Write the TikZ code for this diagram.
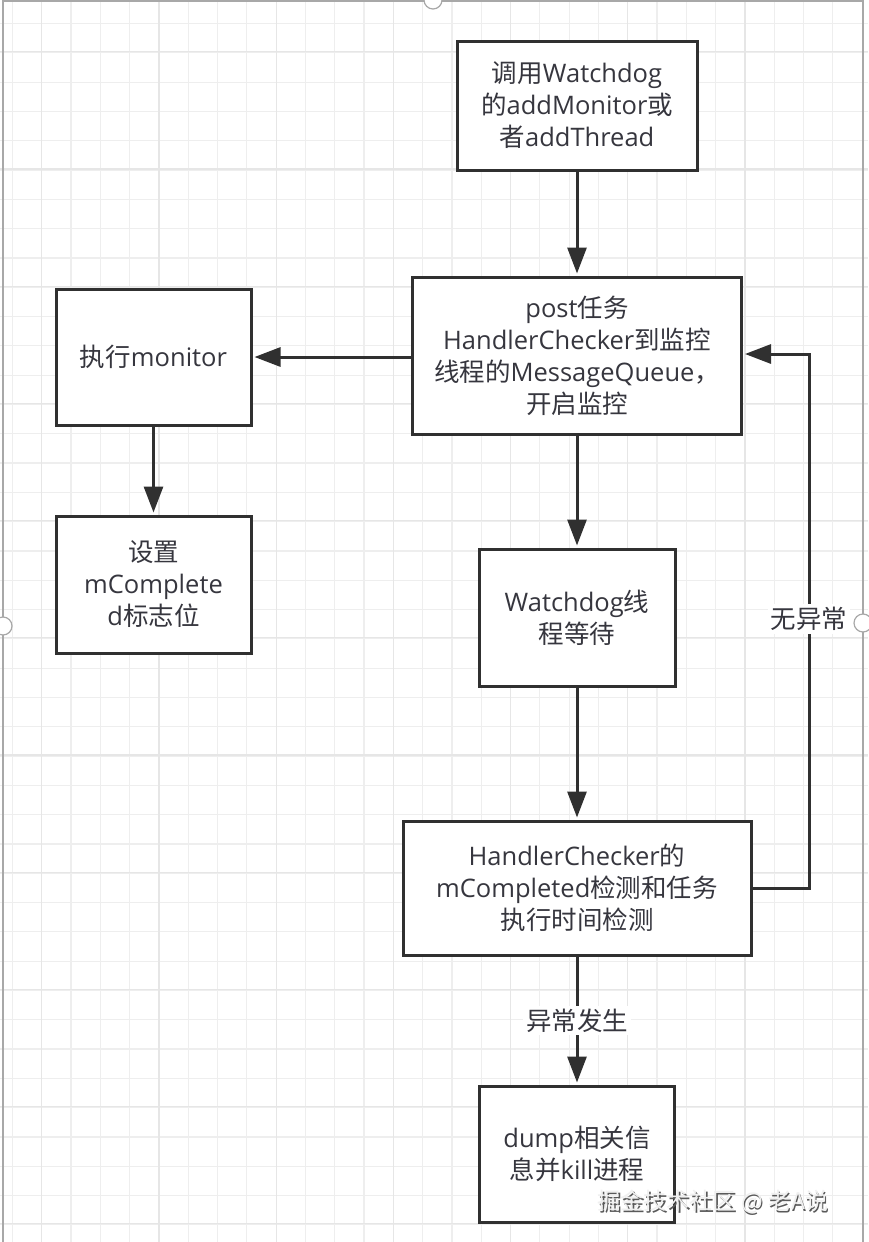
\documentclass[tikz,border=0pt]{standalone}
\usepackage{fontspec}
\setmainfont{Open Sans}
\newfontfamily\zh{Noto Sans CJK SC}
\usetikzlibrary{arrows.meta}
\definecolor{gridminor}{HTML}{EEEEEE}
\definecolor{gridmajor}{HTML}{E6E6E6}
\definecolor{ink}{HTML}{303030}
\definecolor{txt}{HTML}{36363E}
\definecolor{framec}{HTML}{A8A8A8}
\begin{document}
\begin{tikzpicture}[x=1pt,y=-1pt,
  box/.style={draw=ink, line width=3pt, fill=white, rectangle, align=center,
    text=txt, font=\fontsize{25.5}{32}\selectfont, inner sep=0pt},
  conn/.style={draw=ink, line width=3pt, -{Triangle[length=26pt,width=19pt]}, shorten >=2pt},
  lbl/.style={fill=white, text=txt, font=\fontsize{25.5}{32}\selectfont, inner sep=3pt},
  handle/.style={circle, draw=framec, fill=white, line width=1.2pt, minimum size=18pt, inner sep=0pt},
  wmark/.style={font=\zh\fontsize{23}{28}\selectfont, inner sep=0pt}
]
\fill[white] (0,0) rectangle (868,1242);
\useasboundingbox (0,0) rectangle (868,1242);
% grid
\foreach \k in {0,...,29} {
  \pgfmathsetmacro\xx{12.4+29.3*\k}
  \draw[gridminor, line width=1.2pt] (\xx,0) -- (\xx,1242);
}
\foreach \k in {0,...,41} {
  \pgfmathsetmacro\yy{23.5+29.3*\k}
  \draw[gridminor, line width=1.2pt] (0,\yy) -- (868,\yy);
}
\foreach \k in {0,...,6} {
  \pgfmathsetmacro\xx{41.7+117.2*\k}
  \draw[gridmajor, line width=1.2pt] (\xx,0) -- (\xx,1242);
}
\foreach \k in {0,...,10} {
  \pgfmathsetmacro\yy{51.8+117.2*\k}
  \draw[gridmajor, line width=1.2pt] (0,\yy) -- (868,\yy);
}
% frame
\draw[framec, line width=2pt] (3,1242) -- (3,1) -- (863,1) -- (863,1242);
\node[handle] (h1) at (433,0) {};
\node[handle] (h2) at (3,626) {};
\node[handle] (h3) at (863,623) {};

% boxes
\node[box, minimum width=240pt, minimum height=129pt] (b1) at (577,105.5)
  {{\zh 调用}Watchdog\\{\zh 的}addMonitor{\zh 或}\\{\zh 者}addThread};
\node[box, minimum width=329pt, minimum height=157pt] (b2) at (577,355.5)
  {post{\zh 任务}\\HandlerChecker{\zh 到监控}\\{\zh 线程的}MessageQueue{\zh ，}\\{\zh 开启监控}};
\node[box, minimum width=195pt, minimum height=136pt] (b3) at (153.5,357)
  {{\zh 执行}monitor};
\node[box, minimum width=195pt, minimum height=137pt] (b4) at (153.5,584.5)
  {{\zh 设置}\\mComplete\\d{\zh 标志位}};
\node[box, minimum width=196pt, minimum height=137pt] (b5) at (577,617.5)
  {Watchdog{\zh 线}\\{\zh 程等待}};
\node[box, minimum width=348pt, minimum height=134pt] (b6) at (577,888)
  {HandlerChecker{\zh 的}\\mCompleted{\zh 检测和任务}\\{\zh 执行时间检测}};
\node[box, minimum width=195pt, minimum height=136pt] (b7) at (577,1154)
  {dump{\zh 相关信}\\{\zh 息并}kill{\zh 进程}};

% connectors
\draw[conn] (b1.south) -- (b2.north);
\draw[conn] (b2.west |- b3.east) -- (b3.east);
\draw[conn] (b3.south) -- (b4.north);
\draw[conn] (b2.south) -- (b5.north);
\draw[conn] (b5.south) -- (b6.north);
\draw[conn] (b6.south) -- (b7.north) node[lbl, pos=0.5] (l2) {\zh 异常发生};
\coordinate (lb) at (809,888);
\coordinate (lt) at (809,354);
\draw[conn] (b6.east) -- (lb) -- (lt) -- (b2.east |- lt);
\node[lbl] (l1) at (809,619) {\zh 无异常};

% watermark
\node[wmark, text=black!65] (wms) at (714.5,1203.5) {掘金技术社区 @ 老A说};
\node[wmark, text=white!94!black] (wm) at (713,1202) {掘金技术社区 @ 老A说};
\end{tikzpicture}
\end{document}
